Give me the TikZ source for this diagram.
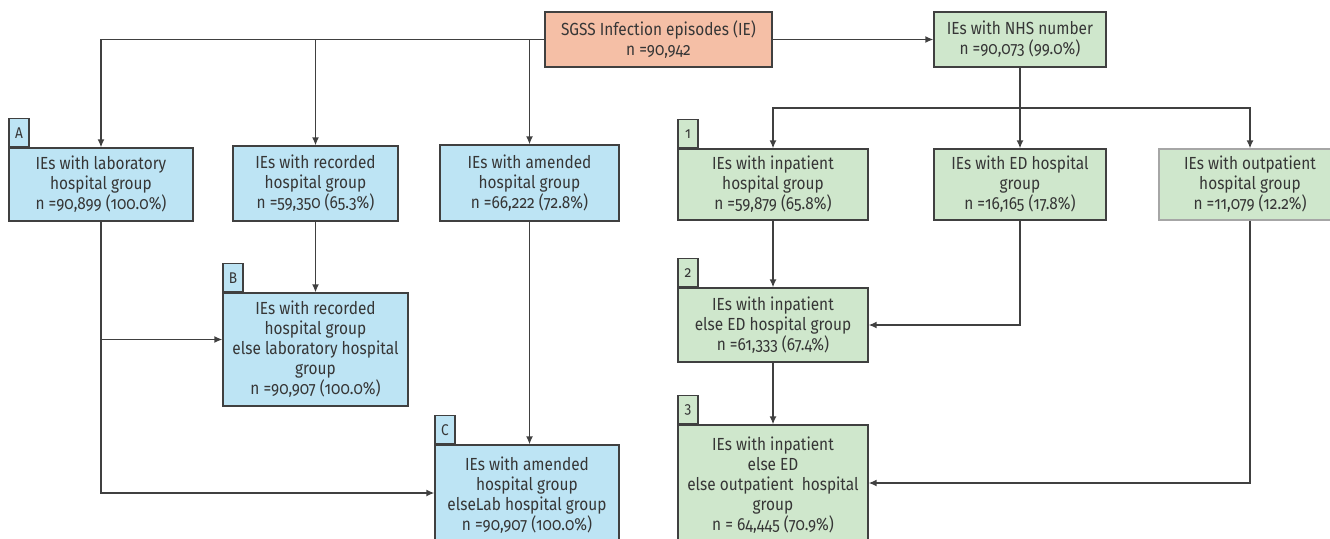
\documentclass[tikz,border=0pt]{standalone}
\usepackage{fontspec}
\setmainfont{Fira Sans}[Numbers=OldStyle, FakeStretch=0.88]
\usepackage{xcolor}
\usepackage{tikz}
\usetikzlibrary{arrows.meta, positioning}

\definecolor{boxblue}{HTML}{BDE4F4}
\definecolor{boxgreen}{HTML}{CFE7CC}
\definecolor{boxsalmon}{HTML}{F5BFA6}
\definecolor{edgegray}{HTML}{404040}
\definecolor{textgray}{HTML}{363636}

\begin{document}
\begin{tikzpicture}[x=1pt, y=-1pt, font=\fontsize{17.5}{20}\selectfont, text=textgray]
        \tikzstyle{box} = [rectangle, draw=edgegray, line width=1.3pt, align=center, inner sep=2pt]
        \tikzstyle{source} = [box, fill=boxsalmon]
        \tikzstyle{labbox} = [box, fill=boxblue]
        \tikzstyle{nhsbox} = [box, fill=boxgreen]
        \tikzstyle{tag} = [rectangle, draw=edgegray, line width=1.3pt, minimum width=20pt, minimum height=28pt, inner sep=0pt, anchor=south west, font=\fontsize{15.5}{16}\selectfont]
        \tikzstyle{line} = [draw=edgegray, line width=1.4pt, -{Latex[length=8pt, width=7pt]}]

        \useasboundingbox (0,0) rectangle (1330,538);

        % top row
        \node [source, minimum width=227pt, minimum height=55pt] (ie) at (658.5,39.5) {SGSS Infection episodes (IE)\\n =90,942};
        \node [nhsbox, minimum width=172pt, minimum height=55pt] (nhs) at (1020,39.5) {IEs with NHS number\\n =90,073 (99.0\%)};

        % hospital group from the lab side
        \node [labbox, minimum width=184pt, minimum height=73pt] (lab) at (101,184.5) {IEs with laboratory\\hospital group\\n =90,899 (100.0\%)};
        \node [labbox, minimum width=165pt, minimum height=75pt] (rec) at (315.5,183.5) {IEs with recorded\\hospital group\\n =59,350 (65.3\%)};
        \node [labbox, minimum width=179pt, minimum height=76pt] (amd) at (529.5,183) {IEs with amended\\hospital group\\n =66,222 (72.8\%)};
        \node [labbox, minimum width=185pt, minimum height=113pt] (recelse) at (315.5,349.5) {IEs with recorded\\hospital group\\else laboratory hospital\\group\\n =90,907 (100.0\%)};
        \node [labbox, minimum width=184pt, minimum height=100pt] (amdelse) at (527,495) {IEs with amended\\hospital group\\elseLab hospital group\\n =90,907 (100.0\%)};

        % hospital group from the NHS side
        \node [nhsbox, minimum width=190pt, minimum height=71pt] (inp) at (773,184.5) {IEs with inpatient\\hospital group\\n =59,879 (65.8\%)};
        \node [nhsbox, minimum width=172pt, minimum height=71pt] (ed) at (1020,184.5) {IEs with ED hospital\\group\\n =16,165 (17.8\%)};
        \node [nhsbox, draw=gray!70, minimum width=182pt, minimum height=71pt] (outp) at (1250,184.5) {IEs with outpatient\\hospital group\\n =11,079 (12.2\%)};
        \node [nhsbox, minimum width=190pt, minimum height=74pt] (inped) at (773,325) {IEs with inpatient\\else ED hospital group\\n =61,333 (67.4\%)};
        \node [nhsbox, minimum width=190pt, minimum height=120pt] (inpedout) at (773,485) {IEs with inpatient\\else ED\\else outpatient\ \ hospital\\group\\n = 64,445 (70.9\%)};

        % tags
        \node [tag, fill=boxblue] (tagA) at (lab.north west) {A};
        \node [tag, fill=boxblue] (tagB) at (recelse.north west) {B};
        \node [tag, fill=boxblue] (tagC) at (amdelse.north west) {C};
        \node [tag, fill=boxgreen] (tag1) at (inp.north west) {1};
        \node [tag, fill=boxgreen] (tag2) at (inped.north west) {2};
        \node [tag, fill=boxgreen] (tag3) at (inpedout.north west) {3};

        \coordinate (nsplit) at (1020,108);

        \path [line] (ie.west) -| (lab.north);
        \path [line] (ie.west) -| (rec.north);
        \path [line] (ie.west) -| (amd.north);
        \path [line] (ie) -- (nhs);

        \path [line] (lab.south) |- ([yshift=10pt]recelse.west);
        \path [line] (lab.south) |- ([yshift=2pt]amdelse.west);
        \path [line] (rec) -- (recelse);
        \path [line] (amd.south) -- (amd.south |- amdelse.north);

        \draw [edgegray, line width=1.4pt] (nhs.south) -- (nsplit);
        \path [line] (nsplit) -| (inp.north);
        \path [line] (nsplit) -- (ed.north);
        \path [line] (nsplit) -| (outp.north);

        \path [line] (inp) -- (inped);
        \path [line] (ed.south) |- (inped.east);
        \path [line] (inped) -- (inpedout);
        \path [line] (outp.south) |- ([yshift=2pt]inpedout.east);
    \end{tikzpicture}
\end{document}
